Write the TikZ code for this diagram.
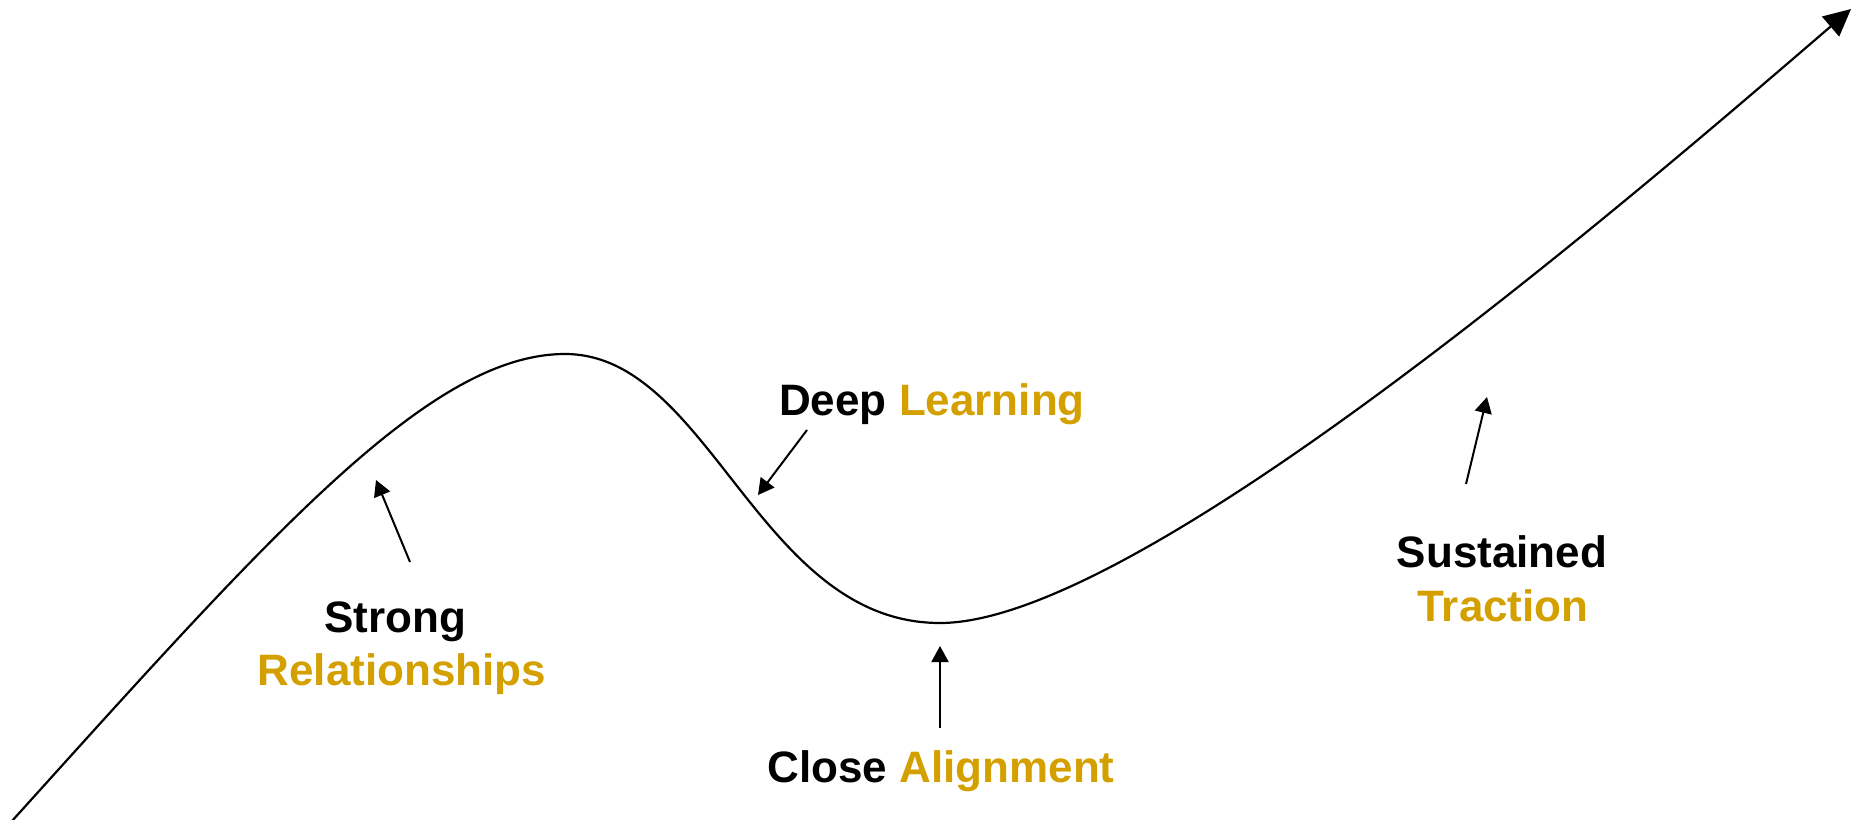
\documentclass[tikz,border=0pt]{standalone}
\usepackage{fontspec}
\setmainfont{Liberation Sans}
\usetikzlibrary{arrows.meta}
\definecolor{gold}{RGB}{212,160,0}
\tikzset{
  lbl/.style={font=\fontsize{22}{27}\selectfont\bfseries, inner sep=0pt, anchor=base},
  curveline/.style={line width=1.1pt, -{Triangle[length=13.5pt,width=13pt]}},
  pointer/.style={line width=1pt, -{Triangle[length=8pt,width=8.5pt]}}
}
\begin{document}
\begin{tikzpicture}[x=0.5pt,y=-0.5pt]
\useasboundingbox (0,0) rectangle (1852,819);
% main curve
\coordinate (c0) at (12,821);
\coordinate (peak) at (565,354);
\coordinate (low) at (940,623);
\coordinate (tip) at (1851,9);
\draw[curveline] (c0) .. controls (272,533) and (430,354) .. (peak)
  .. controls (710,354) and (759,623) .. (low)
  .. controls (1140,623) and (1638,192) .. (tip);
% labels
\node[lbl] (strong) at (395,632) {Strong};
\node[lbl, text=gold] (relat) at (402,685) {Relationships};
\node[lbl] (deep) at (932,415) {Deep \textcolor{gold}{Learning}};
\node[lbl] (close) at (941,782) {Close \textcolor{gold}{Alignment}};
\node[lbl] (sust) at (1502,567) {Sustained};
\node[lbl, text=gold] (tract) at (1503,621) {Traction};
% pointers
\coordinate (sA) at (410,562); \coordinate (sB) at (376,480);
\coordinate (dA) at (807,430); \coordinate (dB) at (758,495);
\coordinate (cA) at (940,728); \coordinate (cB) at (940,646);
\coordinate (tA) at (1466,484); \coordinate (tB) at (1487,397);
\draw[pointer] (sA) -- (sB);
\draw[pointer] (dA) -- (dB);
\draw[pointer] (cA) -- (cB);
\draw[pointer] (tA) -- (tB);
\end{tikzpicture}
\end{document}
